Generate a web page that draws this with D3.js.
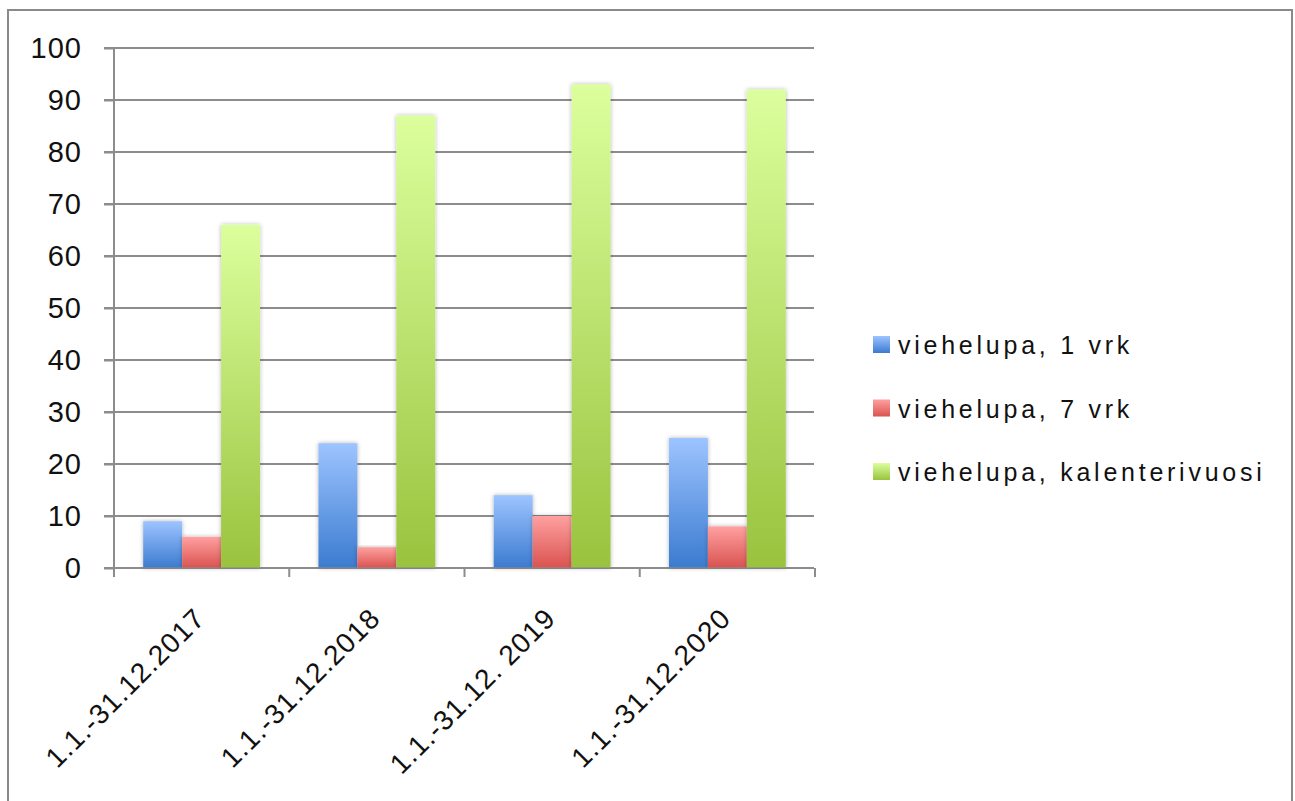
<!DOCTYPE html>
<html>
<head>
<meta charset="utf-8">
<script src="https://cdn.jsdelivr.net/npm/d3@7.9.0/dist/d3.min.js"></script>
<style>
  body { margin: 0; background: #fff; }
  svg { display: block; font-family: "Liberation Sans", Arial, sans-serif; }
</style>
</head>
<body>
<svg id="chart" width="1295" height="801"></svg>
<script>
// ========== Data ==========

const categories = ['1.1.-31.12.2017', '1.1.-31.12.2018', '1.1.-31.12. 2019', '1.1.-31.12.2020'];
const seriesNames = ['viehelupa, 1 vrk', 'viehelupa, 7 vrk', 'viehelupa, kalenterivuosi'];
const vrk1 = [9, 24, 14, 25];
const vrk7 = [6, 4, 10, 8];
const kalenterivuosi = [66, 87, 93, 92];
const yTicks = [0, 10, 20, 30, 40, 50, 60, 70, 80, 90, 100];

const seriesValues = [vrk1, vrk7, kalenterivuosi];

// gradient colours per series (top, bottom)
const seriesColors = [
  ['#9dc4ff', '#3b7bd0'],
  ['#ffa0a0', '#d95350'],
  ['#dcff9d', '#99c33e']
];

// ========== Setup ==========

const svg = d3.select('#chart');
const plot = { left: 114, right: 814, top: 48, bottom: 568 };

const defs = svg.append('defs');

seriesColors.forEach(([top, bottom], i) => {
  const grad = defs.append('linearGradient')
    .attr('id', `grad${i}`)
    .attr('x1', 0).attr('y1', 0).attr('x2', 0).attr('y2', 1);
  grad.append('stop').attr('offset', '0%').attr('stop-color', top);
  grad.append('stop').attr('offset', '100%').attr('stop-color', bottom);
});

// soft shadow behind bars
defs.append('filter')
  .attr('id', 'shadow')
  .attr('x', '-30%').attr('y', '-10%').attr('width', '160%').attr('height', '120%')
  .append('feDropShadow')
  .attr('dx', 0).attr('dy', 0)
  .attr('stdDeviation', 2)
  .attr('flood-color', '#000')
  .attr('flood-opacity', 0.3);

// outer frame
svg.append('rect')
  .attr('x', 8).attr('y', 10)
  .attr('width', 1284).attr('height', 800)
  .attr('fill', 'none')
  .attr('stroke', '#8a8a8a')
  .attr('stroke-width', 2);

// ========== Scales ==========

const x0 = d3.scaleBand()
  .domain(categories)
  .range([plot.left, plot.right + 1])
  .padding(0);

// Excel style gap width 150%: bars take 3 of 4.5 bar widths
const x1 = d3.scaleBand()
  .domain(d3.range(seriesNames.length))
  .range([x0.bandwidth() / 6, x0.bandwidth() * 5 / 6]);

const y = d3.scaleLinear()
  .domain([0, 100])
  .range([plot.bottom, plot.top]);

// ========== Gridlines & Axes ==========

svg.append('g')
  .selectAll('line')
  .data(yTicks)
  .join('line')
  .attr('x1', plot.left - 10)
  .attr('x2', plot.right)
  .attr('y1', (d) => y(d))
  .attr('y2', (d) => y(d))
  .attr('stroke', '#8c8c8c')
  .attr('stroke-width', 2);

const yAxis = svg.append('g')
  .attr('transform', `translate(${plot.left},0)`)
  .call(d3.axisLeft(y).tickValues(yTicks).tickSize(10).tickPadding(22));

yAxis.select('.domain')
  .attr('d', `M0,${plot.top}V${plot.bottom + 9}`)
  .attr('stroke', '#8c8c8c')
  .attr('stroke-width', 2);
yAxis.selectAll('.tick line').attr('stroke', '#8c8c8c').attr('stroke-width', 2);
yAxis.selectAll('.tick text')
  .attr('font-size', 29)
  .attr('letter-spacing', 1)
  .attr('fill', '#111')
  .attr('font-family', '"Liberation Sans", Arial, sans-serif');

// category boundary ticks
const boundaries = categories.map((c) => x0(c)).concat([x0(categories[categories.length - 1]) + x0.bandwidth()]);
svg.append('g')
  .selectAll('line')
  .data(boundaries)
  .join('line')
  .attr('x1', (d) => d)
  .attr('x2', (d) => d)
  .attr('y1', plot.bottom)
  .attr('y2', plot.bottom + 9)
  .attr('stroke', '#8c8c8c')
  .attr('stroke-width', 2);

// ========== Bars ==========

const groups = svg.append('g')
  .selectAll('g')
  .data(categories)
  .join('g')
  .attr('transform', (d) => `translate(${x0(d)},0)`);

groups.selectAll('rect')
  .data((d, ci) => seriesValues.map((vals, si) => ({ si, value: vals[ci] })))
  .join('rect')
  .attr('x', (d) => x1(d.si))
  .attr('width', x1.bandwidth())
  .attr('y', (d) => y(d.value))
  .attr('height', (d) => y(0) - y(d.value))
  .attr('fill', (d) => `url(#grad${d.si})`)
  .attr('filter', 'url(#shadow)');

// x axis baseline above bars bottom
svg.append('line')
  .attr('x1', plot.left - 10)
  .attr('x2', plot.right)
  .attr('y1', y(0))
  .attr('y2', y(0))
  .attr('stroke', '#8c8c8c')
  .attr('stroke-width', 2)
  .attr('opacity', 0.6);

// ========== Category labels ==========

svg.append('g')
  .selectAll('text')
  .data(categories)
  .join('text')
  .attr('transform', (d) => `translate(${x0(d) + x0.bandwidth() / 2 + 5},${plot.bottom + 52}) rotate(-45)`)
  .attr('text-anchor', 'end')
  .attr('font-size', 28)
  .attr('letter-spacing', 1)
  .attr('fill', '#111')
  .text((d) => d);

// ========== Legend ==========

const legend = svg.append('g')
  .selectAll('g')
  .data(seriesNames)
  .join('g')
  .attr('transform', (d, i) => `translate(873,${345 + i * 63.5})`);

legend.append('rect')
  .attr('x', 0).attr('y', -9)
  .attr('width', 17).attr('height', 17)
  .attr('fill', (d, i) => `url(#grad${i})`);

legend.append('text')
  .attr('x', 25)
  .attr('y', 9)
  .attr('font-size', 25)
  .attr('letter-spacing', 3.75)
  .attr('fill', '#111')
  .text((d) => d);
</script>
</body>
</html>
